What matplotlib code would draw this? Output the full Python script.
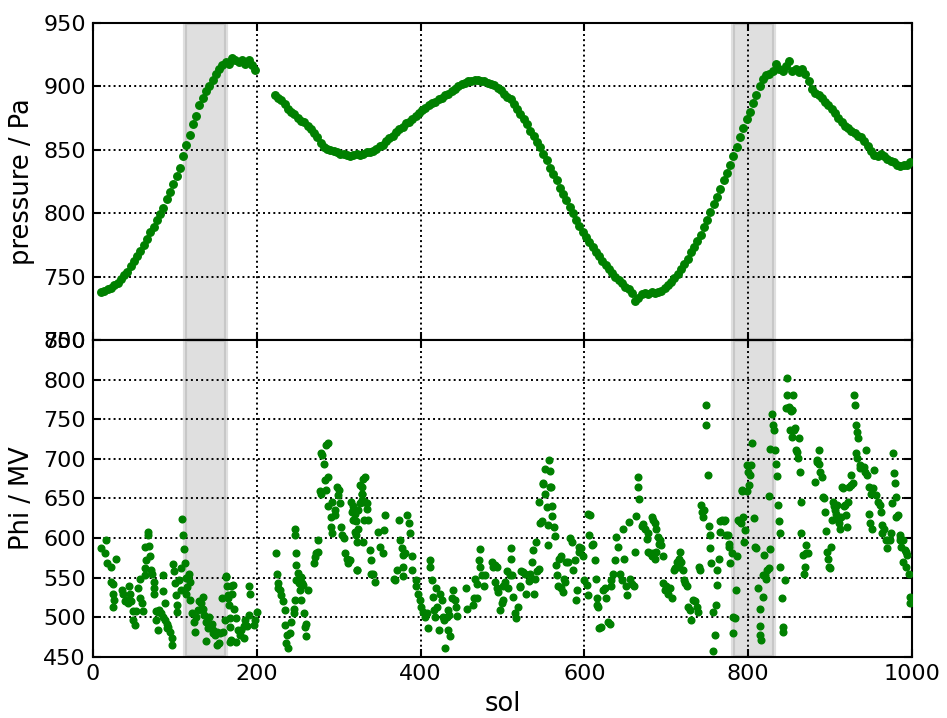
import numpy as np
import matplotlib
matplotlib.use("Agg")
import matplotlib.pyplot as plt

# --- surface pressure, sampled every 4 sols --------------------------------

p_start1, p_start2, p_step = 10, 222, 4
pressure_1 = [738, 739, 740, 741, 743, 745, 748, 751, 754, 758, 762, 766, 770, 775,
              780, 785, 789, 795, 799, 804, 811, 817, 823, 829, 836, 845, 854, 862,
              870, 877, 885, 891, 896, 900, 905, 910, 914, 917, 919, 918, 922, 921,
              919, 921, 918, 921, 917, 913]
pressure_2 = [893, 891, 889, 886, 882, 880, 878, 875, 873, 872, 869, 866, 863, 860,
              855, 852, 851, 850, 849, 848, 847, 847, 846, 845, 846, 847, 846, 847,
              848, 848, 849, 851, 853, 854, 857, 859, 861, 864, 866, 868, 871, 872,
              874, 877, 879, 881, 883, 885, 887, 888, 890, 891, 893, 894, 896, 898,
              900, 902, 903, 904, 904, 905, 905, 904, 904, 903, 902, 901, 899, 897,
              894, 892, 890, 886, 882, 878, 874, 870, 865, 861, 856, 852, 847, 842,
              836, 831, 826, 820, 815, 810, 805, 800, 795, 790, 785, 781, 777, 773,
              769, 766, 762, 759, 756, 753, 750, 747, 745, 742, 740, 737, 731, 733,
              736, 737, 736, 738, 737, 738, 739, 741, 743, 746, 749, 752, 756, 760,
              764, 769, 773, 778, 783, 789, 795, 801, 807, 813, 819, 826, 832, 838,
              845, 852, 860, 867, 874, 880, 887, 893, 900, 906, 909, 910, 912, 918,
              914, 912, 916, 920, 912, 914, 911, 914, 910, 904, 898, 895, 893, 891,
              888, 885, 882, 879, 875, 872, 869, 867, 865, 863, 861, 860, 857, 853,
              849, 846, 845, 847, 845, 843, 841, 840, 838, 837, 838, 838, 840]

# --- Phi (MV), individual sol readings -------------------------------------

phi_sol = [10, 16, 15, 17, 22, 28, 22, 24, 24, 26, 25, 35, 37, 39, 41, 43, 44, 45, 47,
           49, 49, 51, 53, 55, 57, 58, 60, 61, 63, 64, 65, 67, 67, 63, 68, 70, 71, 72,
           74, 75, 75, 77, 77, 79, 79, 81, 83, 85, 86, 88, 85, 88, 90, 92, 94, 96, 97,
           90, 98, 99, 100, 101, 102, 103, 105, 107, 108, 109, 110, 111, 112, 113, 115,
           114, 116, 117, 118, 119, 121, 123, 124, 126, 128, 130, 132, 134, 134, 136,
           138, 140, 138, 142, 145, 146, 147, 149, 151, 151, 154, 155, 157, 159, 161,
           163, 165, 166, 167, 168, 169, 162, 164, 165, 167, 167, 171, 170, 172, 175,
           175, 177, 180, 181, 184, 184, 186, 188, 190, 191, 192, 196, 198, 200,
           224, 225, 226, 226, 228, 230, 232, 234, 234, 237, 236, 238, 240, 242, 245,
           245, 247, 248, 248, 248, 247, 247, 250, 252, 254, 255, 257, 253, 254, 258,
           259, 260, 260, 262, 270, 271, 272, 275, 275, 277, 279, 280, 279, 282, 283,
           285, 287, 287, 285, 287, 291, 292, 295, 296, 291, 292, 298, 300, 299, 302,
           303, 304, 306, 308, 310, 312, 311, 315, 316, 318, 318, 320, 321, 322, 322,
           324, 326, 328, 330, 330, 328,
           314, 320, 321, 318, 320, 324, 326, 328, 329, 332, 332, 334, 334, 331, 336,
           330, 322, 338, 339, 340, 342, 344, 348, 350, 354, 355, 356, 367, 369, 371,
           374, 375, 377, 378, 381, 379, 379, 384, 386, 387, 389, 390, 394, 395, 397,
           399, 401, 403, 405, 408, 409, 412, 412, 414, 415, 416, 418, 419, 420, 422,
           424, 426, 427, 429, 430, 432, 433, 434, 435, 436, 438, 440, 442, 443, 444,
           456, 457, 464, 465, 466, 469, 469, 471, 472, 473, 475, 477, 479, 487, 488,
           491, 493, 491, 493, 495, 497, 499, 501, 503, 505, 507, 501, 509, 511, 511,
           512, 513, 515, 517, 519, 521, 521, 523, 525, 528, 529, 532, 534, 536, 537,
           538, 540, 541, 542, 544, 545, 546, 548, 549, 550, 552, 552, 554, 555, 556,
           557, 558, 558, 559, 560, 561, 563, 564, 565, 566, 568, 569, 571, 572, 574,
           575, 576, 578, 580, 582, 585, 586, 588, 590, 591, 593, 594, 596, 598, 599,
           603, 604, 605, 607, 606, 609, 611, 613, 614, 615, 616, 617, 618, 620, 623,
           625, 627, 629, 631, 632, 633, 635, 637, 639, 641, 644, 646, 647, 648, 651,
           652, 654, 656, 658, 660, 662, 663, 665, 665, 667, 670, 672, 674, 676, 678,
           682, 684, 686, 688, 690, 692, 678, 680, 682, 684, 686, 688, 691, 694, 696,
           696, 698, 700, 702, 705, 707, 709, 711, 713, 715, 717, 716, 718, 720, 722,
           723, 725, 727, 729, 730, 733, 735, 737, 739, 740, 741, 743, 744, 746, 745,
           748, 749, 751, 752, 753, 754, 755, 757, 757, 759, 761, 762, 762, 764, 765,
           766, 768, 770, 772, 773, 775, 776, 777, 778, 780, 781, 782, 784, 785, 786,
           788, 789, 791, 792, 793, 795, 794, 796, 798, 799, 800, 801, 802, 804, 805,
           807, 808, 810, 812, 814, 815, 815, 816, 818, 818, 819, 820, 822, 823, 825,
           826, 827, 827, 829, 830, 831, 833, 834, 835, 837, 838, 839, 839, 841, 842,
           843, 845, 846, 847, 848, 849, 850, 852, 853, 854, 851, 853, 855, 856, 857,
           859, 860, 861, 862, 863, 864, 865, 867, 868, 869, 871, 871, 873, 882, 884,
           884, 886, 887, 888, 890, 891, 892, 894, 895, 896, 898, 899, 900, 901, 902,
           904, 905, 906, 907, 909, 910, 911, 912, 913, 915, 916, 917, 918, 920, 921,
           922, 923, 925, 926, 928, 929, 930, 932, 933, 934, 932, 933, 936, 937, 941,
           943, 944, 945, 948, 950, 947, 949, 951, 952, 954, 956, 959, 961, 962, 963,
           964, 966, 968, 969, 971, 973, 975, 976, 977, 978, 979, 980, 981, 983, 985,
           985, 987, 989, 989, 991, 993, 993, 994, 996, 998, 998]
phi_mv = [588, 597, 581, 568, 564, 573, 545, 542, 529, 522, 513, 534, 530, 520, 522,
          518, 539, 530, 520, 508, 497, 490, 508, 537, 549, 524, 518, 508, 553, 562,
          572, 608, 604, 589, 590, 577, 560, 555, 545, 537, 529, 508, 497, 484, 507,
          509, 505, 553, 533, 518, 501, 497, 492, 488, 482, 474, 465, 486, 567, 558,
          543, 528, 515, 507, 547, 534, 562, 624, 604, 586, 568, 550, 538, 529, 551,
          555, 544, 522, 505, 494, 482, 501, 509, 520, 518, 526, 511, 503, 494, 486,
          470, 501, 492, 480, 484, 478, 482, 465, 468, 480, 524, 482, 497, 552, 528,
          515, 488, 471, 539, 551, 539, 524, 499, 469, 541, 530, 510, 499, 469, 484,
          478, 484, 489, 474, 497, 489, 503, 540, 529, 490, 497, 507,
          581, 555, 543, 537, 534, 528, 520, 509, 490, 478, 468, 461, 480, 494, 505,
          511, 522, 547, 566, 581, 611, 604, 556, 543, 551, 543, 541, 534, 522, 505,
          488, 491, 476, 534, 568, 576, 581, 583, 598, 659, 656, 705, 707, 693, 673,
          718, 720, 677, 661, 640, 627, 646, 636, 629, 614, 606, 665, 661, 654, 644,
          614, 604, 600, 581, 574, 572, 569, 646, 633, 635, 623, 636, 604, 595, 560,
          612, 667, 656, 646, 675, 648,
          572, 608, 621, 640, 631, 635, 644, 665, 656, 677, 646, 644, 637, 623, 623,
          595, 560, 585, 572, 555, 555, 544, 608, 589, 581, 610, 629, 549, 547, 560,
          623, 598, 587, 579, 581, 564, 552, 629, 619, 606, 577, 560, 547, 539, 530,
          522, 513, 507, 501, 505, 487, 572, 564, 547, 526, 509, 501, 537, 513, 484,
          530, 522, 501, 497, 461, 501, 484, 509, 503, 476, 524, 535, 522, 513, 502,
          537, 511, 515, 524, 549, 542, 524, 572, 586, 564, 553, 539, 553, 570, 564,
          566, 564, 545, 537, 532, 509, 518, 522, 545, 559, 537, 539, 553, 587, 574,
          553, 526, 505, 499, 513, 540, 538, 559, 557, 555, 529, 546, 555, 570, 585,
          529, 549, 595, 559, 561, 645, 619, 621, 670, 668, 687, 656, 639, 617, 591,
          699, 685, 664, 664, 641, 628, 614, 603, 566, 553, 540, 574, 577, 537, 532,
          549, 545, 570, 570, 600, 595, 560, 572, 522, 534, 589, 583, 587, 577, 547,
          541, 528, 631, 629, 604, 591, 593, 572, 549, 524, 516, 513, 486, 488, 534,
          537, 524, 494, 492, 540, 547, 555, 572, 601, 589, 555, 547, 612, 574, 540,
          528, 620, 548, 542, 540, 582, 628, 664, 677, 649, 615, 618, 611, 599, 582,
          627, 623, 619, 612, 602, 598, 606, 581, 577, 581, 574, 583, 593, 591, 577,
          543, 534, 539, 530, 537, 524, 560, 562, 570, 574, 583, 564, 570, 560, 547,
          543, 539, 513, 509, 497, 522, 520, 513, 507, 564, 560, 642, 633, 635, 627,
          768, 743, 680, 615, 604, 587, 568, 507, 457, 478, 516, 541, 560, 574, 608,
          621, 623, 621, 623, 604, 604, 593, 589, 568, 581, 501, 480, 499, 534, 577,
          623, 621, 619, 659, 661, 595, 627, 610, 659, 692, 684, 667, 680, 692, 720,
          625, 589, 587, 537, 511, 489, 478, 472, 526, 553, 579, 553, 549, 560, 562,
          653, 586, 713, 757, 743, 736, 711, 693, 678, 642, 621, 606, 563, 525, 488,
          481, 547, 764, 781, 802, 764, 766, 760, 762, 762, 736, 728, 781, 736, 739,
          711, 709, 701, 726, 684, 646, 606, 579, 555, 564, 581, 591, 581, 671, 696,
          699, 711, 694, 684, 677, 652, 650, 633, 609, 583, 574, 564, 562, 589, 623,
          646, 640, 635, 631, 642, 623, 619, 612, 627, 665, 663, 640, 642, 629, 614,
          646, 665, 667, 680, 669, 781, 768, 743, 734, 726, 707, 701, 692, 688, 690,
          684, 711, 680, 665, 656, 631, 619, 612, 663, 686, 654, 646, 642, 633, 616,
          606, 612, 598, 587, 598, 598, 606, 644, 707, 682, 669, 652, 627, 629, 604,
          598, 589, 598, 570, 585, 583, 564, 579, 555, 526, 518]

# gray bands marking the two periods of interest
spans = [(112, 162), (782, 832)]

sol_p1 = p_start1 + p_step * np.arange(len(pressure_1))
sol_p2 = p_start2 + p_step * np.arange(len(pressure_2))
n = min(len(phi_sol), len(phi_mv))

plt.rcParams.update({
    "font.family": "DejaVu Sans",
    "font.size": 16,
    "axes.labelsize": 18.5,
    "axes.linewidth": 1.5,
    "xtick.direction": "in", "ytick.direction": "in",
    "xtick.top": True, "ytick.right": True,
    "xtick.major.size": 6, "ytick.major.size": 6,
    "xtick.major.width": 1.5, "ytick.major.width": 1.5,
    "xtick.major.pad": 5, "ytick.major.pad": 5,
})

fig = plt.figure(figsize=(9.47, 7.18), dpi=100)
ax1 = fig.add_axes([0.0982, 0.5265, 0.8648, 0.4415])
ax2 = fig.add_axes([0.0982, 0.085, 0.8648, 0.4415], sharex=ax1)

mk = dict(ls="none", marker="o", color="#008000", mec="#008000", zorder=3)
ax1.plot(sol_p1, pressure_1, ms=5.4, **mk)
ax1.plot(sol_p2, pressure_2, ms=5.4, **mk)
ax2.plot(phi_sol[:n], phi_mv[:n], ms=4.8, **mk)

for ax in (ax1, ax2):
    for a, b in spans:
        ax.axvspan(a, b, facecolor="gray", edgecolor="gray", alpha=0.25, lw=3, zorder=1)
    ax.grid(True, color="k", ls=":", lw=1.4, zorder=2)
    ax.set_xlim(0, 1000)
    ax.set_xticks(np.arange(0, 1001, 200))

ax1.set_ylim(700, 950)
ax1.set_yticks(np.arange(700, 951, 50))
ax1.set_ylabel("pressure / Pa", labelpad=6)
ax1.tick_params(labelbottom=False)

ax2.set_ylim(450, 850)
ax2.set_yticks(np.arange(450, 851, 50))
ax2.set_ylabel("Phi / MV", labelpad=6)
ax2.set_xlabel("sol", labelpad=5)

fig.savefig("out.png", dpi=100)
